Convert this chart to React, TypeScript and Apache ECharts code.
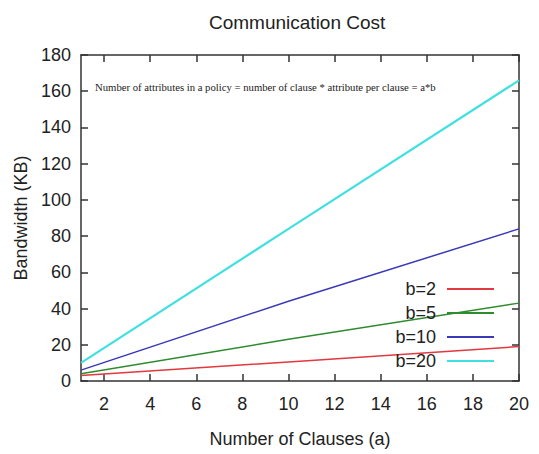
import React, { useEffect, useRef } from "react";
import * as echarts from "echarts";

const clauses = [1, 10, 20];
const seriesNames = ["b=2", "b=5", "b=10", "b=20"];
const b2 = [3, 10.5, 19];
const b5 = [4, 23, 43];
const b10 = [6, 44, 84];
const b20 = [10, 84, 166];
const seriesValues = [b2, b5, b10, b20];
const colors = ["#e2383f", "#2e8b2e", "#3a3ab8", "#40e0e0"];
const widths = [1.5, 1.5, 1.5, 2.2];
const xTicks = [2, 4, 6, 8, 10, 12, 14, 16, 18, 20];
const titleText = "Communication Cost";
const note = "Number of attributes in a policy = number of clause * attribute per clause = a*b";

export default function App() {
  const ref = useRef<HTMLDivElement>(null);
  useEffect(() => {
    if (!ref.current) return;
    const chart = echarts.init(ref.current, null, { renderer: "svg" });
    const font = "'Liberation Sans', Arial, sans-serif";
    const lineCol = "#333";
    const baseX = {
      type: "value",
      min: 1,
      max: 20,
      splitLine: { show: false },
      axisLine: { show: true, onZero: false, lineStyle: { color: lineCol, width: 1.5 } },
      axisTick: { show: true, inside: true, length: 7, customValues: xTicks, lineStyle: { color: lineCol, width: 1.5 } },
    };
    const baseY = {
      type: "value",
      min: 0,
      max: 180,
      interval: 20,
      splitLine: { show: false },
      axisLine: { show: true, lineStyle: { color: lineCol, width: 1.5 } },
      axisTick: { show: true, inside: true, length: 7, lineStyle: { color: lineCol, width: 1.5 } },
    };
    chart.setOption({
      animation: false,
      backgroundColor: "#fff",
      title: {
        text: titleText,
        left: 204,
        top: 8,
        textStyle: { fontFamily: font, fontSize: 19, fontWeight: "normal", color: "#222" },
      },
      grid: { left: 81, right: 20, top: 55, bottom: 73 },
      legend: {
        orient: "vertical",
        right: 40,
        top: 275,
        align: "right",
        icon: "rect",
        itemWidth: 47,
        itemHeight: 2,
        itemGap: 6,
        data: seriesNames,
        textStyle: { fontFamily: font, fontSize: 18, color: "#222", padding: [0, 6, 0, 0] },
      },
      xAxis: [
        {
          ...baseX,
          position: "bottom",
          name: "Number of Clauses (a)",
          nameLocation: "middle",
          nameGap: 49,
          nameTextStyle: { fontFamily: font, fontSize: 18, color: "#222" },
          axisLabel: { show: true, customValues: xTicks, fontFamily: font, fontSize: 18, color: "#222", margin: 14 },
        },
        {
          ...baseX,
          position: "top",
          axisLabel: { show: false },
        },
      ],
      yAxis: [
        {
          ...baseY,
          position: "left",
          name: "Bandwidth (KB)",
          nameLocation: "middle",
          nameGap: 47,
          nameTextStyle: { fontFamily: font, fontSize: 18, color: "#222" },
          axisLabel: { show: true, fontFamily: font, fontSize: 18, color: "#222", margin: 10 },
        },
        {
          ...baseY,
          position: "right",
          axisLabel: { show: false },
        },
      ],
      graphic: [
        {
          type: "text",
          left: 95,
          top: 81,
          style: {
            text: note,
            font: "10.7px 'Liberation Serif', 'Times New Roman', serif",
            fill: "#222",
          },
        },
      ],
      series: seriesNames.map((n, i) => ({
        name: n,
        type: "line",
        xAxisIndex: 0,
        yAxisIndex: 0,
        showSymbol: false,
        symbol: "none",
        data: clauses.map((c, j) => [c, seriesValues[i][j]]),
        lineStyle: { color: colors[i], width: widths[i] },
        itemStyle: { color: colors[i] },
      })),
    });
    return () => chart.dispose();
  }, []);
  return <div ref={ref} style={{ width: 539, height: 454, position: "absolute", left: 0, top: 0 }} />;
}
